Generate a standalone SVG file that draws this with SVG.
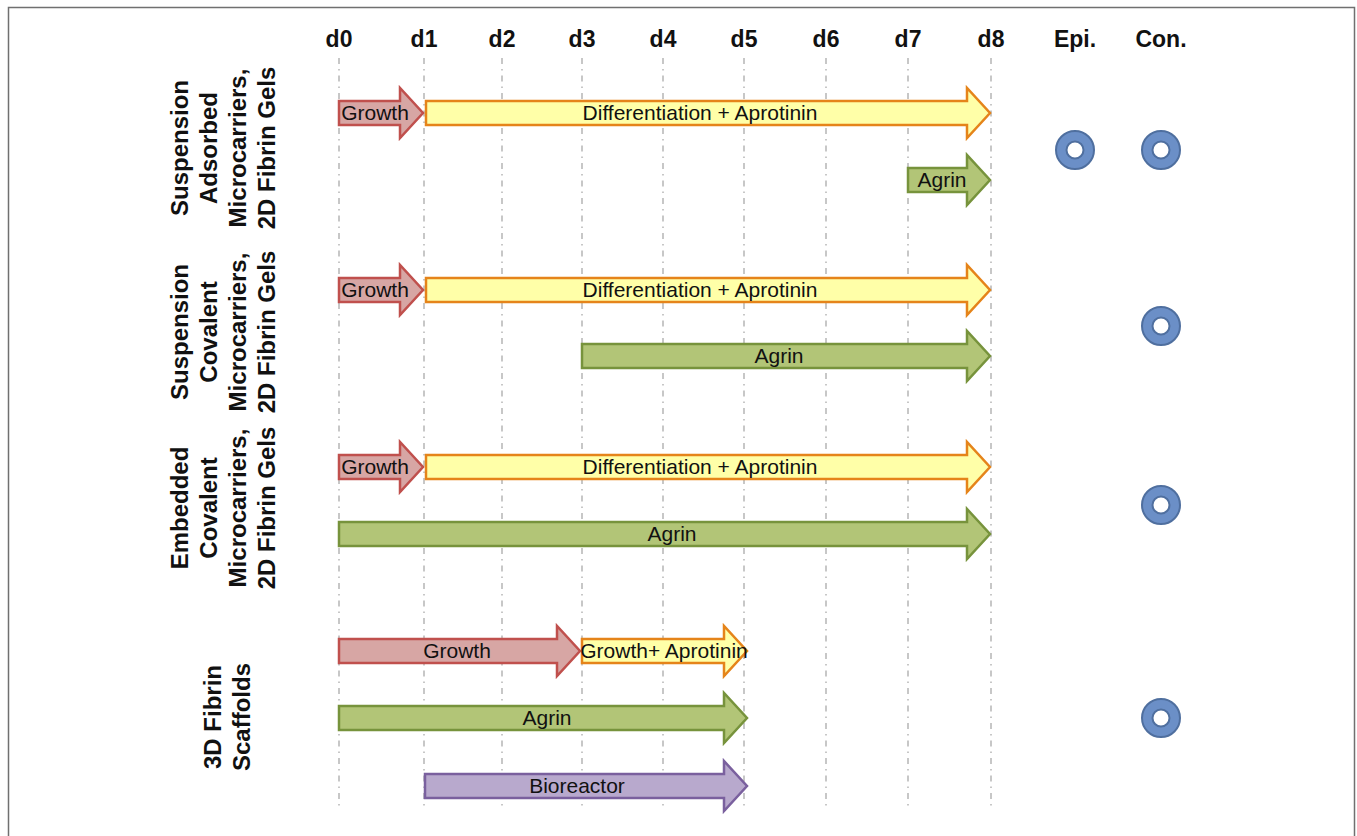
<svg xmlns="http://www.w3.org/2000/svg" width="1357" height="836" viewBox="0 0 1357 836">
<style>
  text { font-family: "Liberation Sans", Arial, sans-serif; fill: #111; }
  .hdr { font-size: 23px; font-weight: bold; text-anchor: middle; }
  .side { font-size: 24px; font-weight: bold; text-anchor: middle; }
  .lbl { font-size: 21px; text-anchor: middle; }
  .grid line { stroke: #b5b5b5; stroke-width: 1.5; stroke-dasharray: 6 5 1.5 5; }
  .growth { fill: #d7a6a4; stroke: #c0504d; stroke-width: 2.5; }
  .diff { fill: #ffffa8; stroke: #e5841a; stroke-width: 2.5; }
  .agrin { fill: #b2c577; stroke: #77933c; stroke-width: 2.5; }
  .bio { fill: #b8a9cd; stroke: #7a609e; stroke-width: 2.5; }
  .ring { fill: #6b8fc7; stroke: #4f6f9f; stroke-width: 2; }
  .hole { fill: #ffffff; stroke: #4f6f9f; stroke-width: 2; }
</style>
<rect x="0" y="0" width="1357" height="836" fill="#ffffff"/>
<path d="M8.5,840 V7.5 H1354.5 V840" fill="none" stroke="#707070" stroke-width="1.5"/>

<g id="header">
  <text class="hdr" x="339" y="47">d0</text>
  <text class="hdr" x="424" y="47">d1</text>
  <text class="hdr" x="502" y="47">d2</text>
  <text class="hdr" x="582" y="47">d3</text>
  <text class="hdr" x="663" y="47">d4</text>
  <text class="hdr" x="744" y="47">d5</text>
  <text class="hdr" x="826" y="47">d6</text>
  <text class="hdr" x="908" y="47">d7</text>
  <text class="hdr" x="991" y="47">d8</text>
  <text class="hdr" x="1075" y="47">Epi.</text>
  <text class="hdr" x="1161" y="47">Con.</text>
</g>

<g id="connectors" class="grid">
  <line x1="339" y1="58" x2="339" y2="806"/>
  <line x1="424" y1="58" x2="424" y2="806"/>
  <line x1="502" y1="58" x2="502" y2="806"/>
  <line x1="582" y1="58" x2="582" y2="806"/>
  <line x1="663" y1="58" x2="663" y2="806"/>
  <line x1="744" y1="58" x2="744" y2="806"/>
  <line x1="826" y1="58" x2="826" y2="806"/>
  <line x1="908" y1="58" x2="908" y2="806"/>
  <line x1="991" y1="58" x2="991" y2="806"/>
</g>

<g id="label-group1">
  <text class="side" transform="translate(188,148) rotate(-90)">Suspension</text>
  <text class="side" transform="translate(217,148) rotate(-90)">Adsorbed</text>
  <text class="side" transform="translate(246,148) rotate(-90)">Microcarriers,</text>
  <text class="side" transform="translate(275,148) rotate(-90)">2D Fibrin Gels</text>
</g>
<g id="label-group2">
  <text class="side" transform="translate(188,332) rotate(-90)">Suspension</text>
  <text class="side" transform="translate(217,332) rotate(-90)">Covalent</text>
  <text class="side" transform="translate(246,332) rotate(-90)">Microcarriers,</text>
  <text class="side" transform="translate(275,332) rotate(-90)">2D Fibrin Gels</text>
</g>
<g id="label-group3">
  <text class="side" transform="translate(188,508) rotate(-90)">Embedded</text>
  <text class="side" transform="translate(217,508) rotate(-90)">Covalent</text>
  <text class="side" transform="translate(246,508) rotate(-90)">Microcarriers,</text>
  <text class="side" transform="translate(275,508) rotate(-90)">2D Fibrin Gels</text>
</g>
<g id="label-group4">
  <text class="side" transform="translate(221,717) rotate(-90)">3D Fibrin</text>
  <text class="side" transform="translate(250,717) rotate(-90)">Scaffolds</text>
</g>

<!-- Row 1 -->
<g id="r1-growth">
  <path class="growth" d="M339,101 H400 V88 L423,113 L400,138 V125 H339 Z"/>
  <text class="lbl" x="375" y="120">Growth</text>
</g>
<g id="r1-diff">
  <path class="diff" d="M426,101 H967 V88 L990,113 L967,138 V125 H426 Z"/>
  <text class="lbl" x="700" y="120">Differentiation + Aprotinin</text>
</g>
<g id="r1-agrin">
  <path class="agrin" d="M908,168 H967 V155 L990,180 L967,205 V192 H908 Z"/>
  <text class="lbl" x="942" y="187">Agrin</text>
</g>
<g id="r1-epi">
  <circle class="ring" cx="1075" cy="150" r="19"/>
  <circle class="hole" cx="1075" cy="150" r="8.5"/>
</g>
<g id="r1-con">
  <circle class="ring" cx="1161" cy="150" r="19"/>
  <circle class="hole" cx="1161" cy="150" r="8.5"/>
</g>

<!-- Row 2 -->
<g id="r2-growth">
  <path class="growth" d="M339,278 H400 V265 L423,290 L400,315 V302 H339 Z"/>
  <text class="lbl" x="375" y="297">Growth</text>
</g>
<g id="r2-diff">
  <path class="diff" d="M426,278 H967 V265 L990,290 L967,315 V302 H426 Z"/>
  <text class="lbl" x="700" y="297">Differentiation + Aprotinin</text>
</g>
<g id="r2-agrin">
  <path class="agrin" d="M582,344 H967 V331 L990,356 L967,381 V368 H582 Z"/>
  <text class="lbl" x="779" y="363">Agrin</text>
</g>
<g id="r2-con">
  <circle class="ring" cx="1161" cy="326" r="19"/>
  <circle class="hole" cx="1161" cy="326" r="8.5"/>
</g>

<!-- Row 3 -->
<g id="r3-growth">
  <path class="growth" d="M339,455 H400 V442 L423,467 L400,492 V479 H339 Z"/>
  <text class="lbl" x="375" y="474">Growth</text>
</g>
<g id="r3-diff">
  <path class="diff" d="M426,455 H967 V442 L990,467 L967,492 V479 H426 Z"/>
  <text class="lbl" x="700" y="474">Differentiation + Aprotinin</text>
</g>
<g id="r3-agrin">
  <path class="agrin" d="M339,522 H967 V509 L990,534 L967,559 V546 H339 Z"/>
  <text class="lbl" x="672" y="541">Agrin</text>
</g>
<g id="r3-con">
  <circle class="ring" cx="1161" cy="505" r="19"/>
  <circle class="hole" cx="1161" cy="505" r="8.5"/>
</g>

<!-- Row 4 -->
<g id="r4-growth">
  <path class="growth" d="M339,639 H557 V626 L580,651 L557,676 V663 H339 Z"/>
  <text class="lbl" x="457" y="658">Growth</text>
</g>
<g id="r4-growth-aprotinin">
  <path class="diff" d="M582,639 H724 V626 L747,651 L724,676 V663 H582 Z"/>
  <text class="lbl" x="664" y="658">Growth+ Aprotinin</text>
</g>
<g id="r4-agrin">
  <path class="agrin" d="M339,706 H724 V693 L747,718 L724,743 V730 H339 Z"/>
  <text class="lbl" x="547" y="725">Agrin</text>
</g>
<g id="r4-bioreactor">
  <path class="bio" d="M425,774 H724 V761 L747,786 L724,811 V798 H425 Z"/>
  <text class="lbl" x="577" y="793">Bioreactor</text>
</g>
<g id="r4-con">
  <circle class="ring" cx="1161" cy="718" r="19"/>
  <circle class="hole" cx="1161" cy="718" r="8.5"/>
</g>
</svg>
